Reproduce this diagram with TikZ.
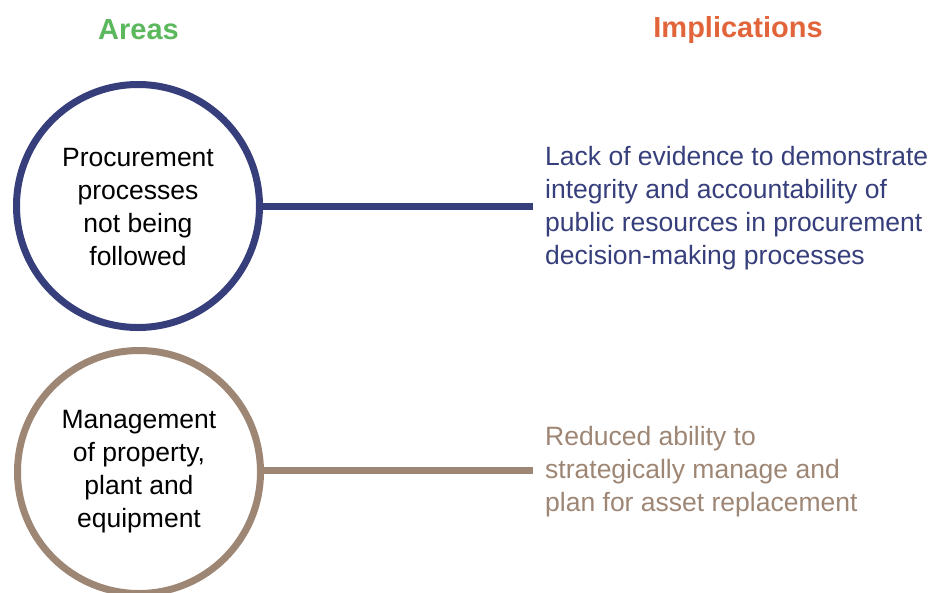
\documentclass[tikz,border=0pt]{standalone}
\usepackage{fontspec}
\setmainfont{Liberation Sans}
\definecolor{areagreen}{HTML}{5CB85C}
\definecolor{implorange}{HTML}{E2643A}
\definecolor{navy}{HTML}{363F7B}
\definecolor{taupe}{HTML}{9E8675}
\begin{document}
\begin{tikzpicture}[x=1pt,y=-1pt,
  header/.style={font=\fontsize{29}{33}\selectfont\bfseries},
  areacircle/.style={circle, draw, line width=7pt, minimum size=243pt, inner sep=0pt,
    align=center, text=black, font=\fontsize{26.5}{33}\selectfont, fill=white},
  impl/.style={anchor=west, align=left, inner sep=0pt, font=\fontsize{26.5}{33}\selectfont},
  link/.style={line width=7pt}]
\clip (0,0) rectangle (933,592);
\node[header, text=areagreen] (h1) at (138.5,29.5) {Areas};
\node[header, text=implorange] (h2) at (738,29.5) {Implications};

\node[areacircle, draw=navy] (c1) at (138,206) {};
\node[areacircle, draw=taupe] (c2) at (139,472) {};
\node[align=center, font=\fontsize{26.5}{33}\selectfont] (l1) at (138,207.5) {Procurement\\processes\\not being\\followed};
\node[align=center, font=\fontsize{26.5}{33}\selectfont] (l2) at (139,471.5) {Management\\of property,\\plant and\\equipment};

\coordinate (e1) at (533,206);
\coordinate (e2) at (533,470);
\draw[link, navy] (c1.east) -- (e1);
\draw[link, taupe] (c2.east |- e2) -- (e2);

\node[impl, text=navy] (t1) at (545,208.5) {Lack of evidence to demonstrate\\integrity and accountability of\\public resources in procurement\\decision-making processes};
\node[impl, text=taupe] (t2) at (545,472) {Reduced ability to\\strategically manage and\\plan for asset replacement};
\end{tikzpicture}
\end{document}
